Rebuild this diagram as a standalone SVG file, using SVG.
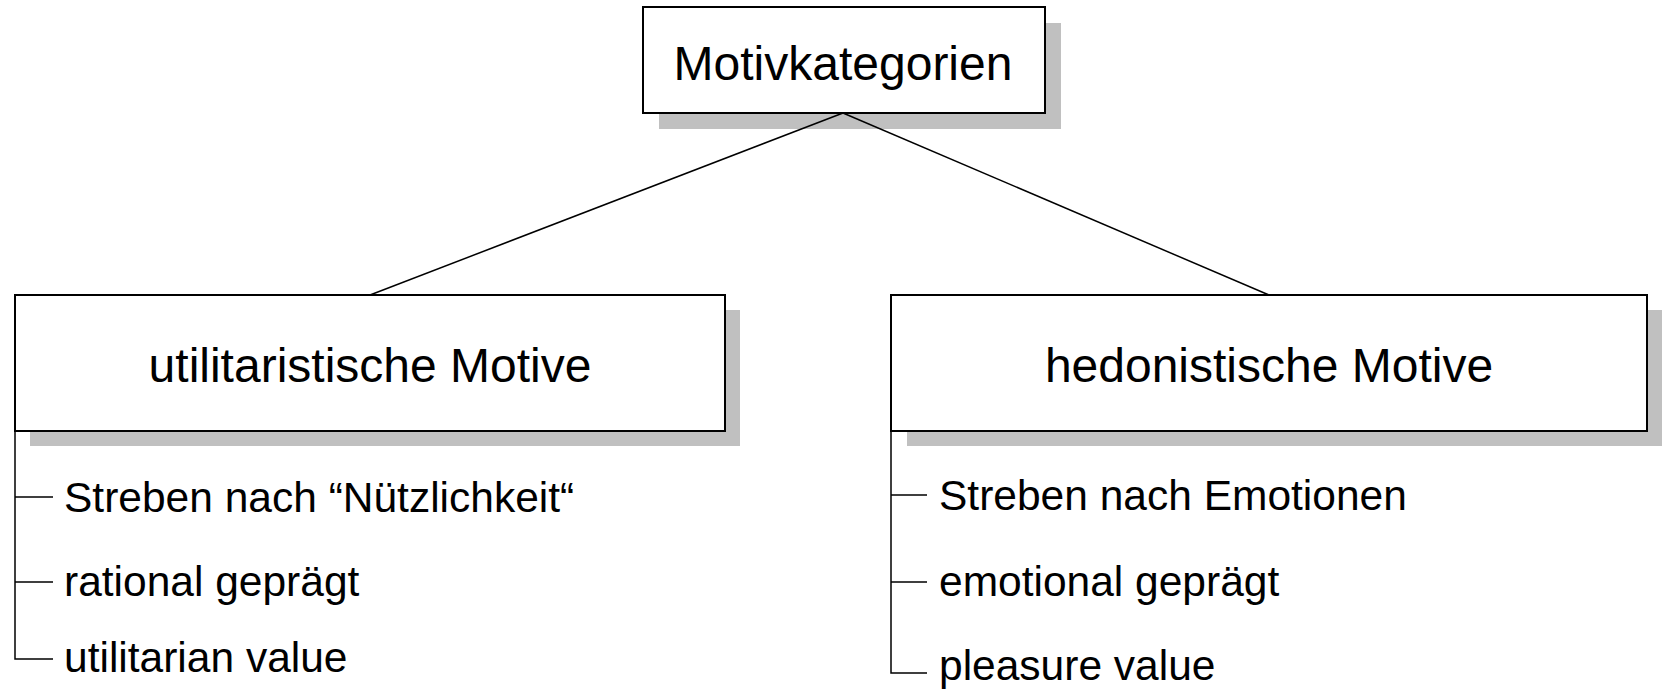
<svg xmlns="http://www.w3.org/2000/svg" width="1662" height="692" viewBox="0 0 1662 692">
  <style>
    .shadow { fill: #c0c0c0; stroke: none; }
    .box { fill: #ffffff; stroke: #000000; stroke-width: 2; }
    .head { font-family: "Liberation Sans", Arial, sans-serif; font-size: 48px; fill: #000000; text-anchor: middle; }
    .item { font-family: "Liberation Sans", Arial, sans-serif; font-size: 42.5px; fill: #000000; }
    .link { stroke: #000000; stroke-width: 1.5; fill: none; }
    .tree { stroke: #000000; stroke-width: 1.5; fill: none; }
  </style>
  <rect width="1662" height="692" fill="#ffffff"/>

  <!-- root node -->
  <g id="motivkategorien">
    <rect class="shadow" x="659" y="23" width="402" height="106"/>
    <rect class="box" x="643" y="7" width="402" height="106"/>
    <text class="head" x="843" y="80">Motivkategorien</text>
  </g>

  <!-- utilitarian branch -->
  <g id="utilitaristisch">
    <rect class="shadow" x="30" y="310" width="710" height="136"/>
    <rect class="box" x="15" y="295" width="710" height="136"/>
    <text class="head" x="370" y="382">utilitaristische Motive</text>
  </g>
  <g id="utilitaristisch-list">
    <path class="tree" d="M15 431 V659 H53 M15 497 H53 M15 582 H53"/>
    <text class="item" x="64" y="512">Streben nach “Nützlichkeit“</text>
    <text class="item" x="64" y="596">rational geprägt</text>
    <text class="item" x="64" y="672">utilitarian value</text>
  </g>

  <!-- hedonic branch -->
  <g id="hedonistisch">
    <rect class="shadow" x="907" y="310" width="756" height="136"/>
    <rect class="box" x="891" y="295" width="756" height="136"/>
    <text class="head" x="1269" y="382">hedonistische Motive</text>
  </g>
  <g id="hedonistisch-list">
    <path class="tree" d="M891 431 V673 H927 M891 495 H927 M891 582 H927"/>
    <text class="item" x="939" y="510">Streben nach Emotionen</text>
    <text class="item" x="939" y="596">emotional geprägt</text>
    <text class="item" x="939" y="680">pleasure value</text>
  </g>

  <!-- connectors from the root to the two categories, drawn over the shadow -->
  <g id="connectors">
    <line class="link" x1="843" y1="113" x2="370" y2="295"/>
    <line class="link" x1="843" y1="113" x2="1269" y2="295"/>
  </g>
</svg>
